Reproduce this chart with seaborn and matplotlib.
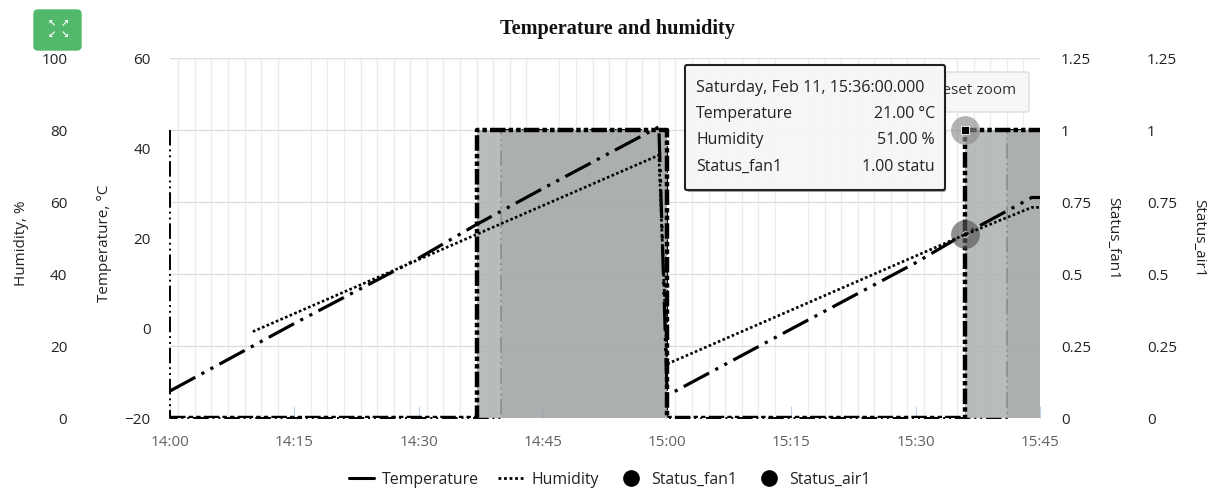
import matplotlib
matplotlib.use("Agg")
import matplotlib.pyplot as plt
import matplotlib.dates as mdates
from matplotlib.lines import Line2D
from matplotlib.patches import FancyBboxPatch
from matplotlib.transforms import Affine2D
import pandas as pd
import seaborn as sns

DAY = "2017-02-11 "
temp_times = ["14:00", "14:15", "14:30", "14:37", "14:45", "14:59", "15:00", "15:15", "15:30", "15:36", "15:44", "15:45"]
temp_values = [-14, 1, 15.5, 23, 31, 44.7, -15, -0.2, 14.5, 21, 29, 29]
hum_times = ["14:10", "14:15", "14:30", "14:37", "14:45", "14:59", "15:00", "15:15", "15:30", "15:36", "15:44", "15:45"]
hum_values = [24, 29, 44, 51, 59, 73, 15, 30, 45, 51, 58.5, 58.5]
fan_times = ["14:00", "14:37", "14:37", "15:00", "15:00", "15:36", "15:36", "15:45"]
fan_values = [0, 0, 1, 1, 0, 0, 1, 1]
air_times = ["14:00", "14:00", "14:00", "14:40", "14:40", "15:00", "15:00", "15:41", "15:41", "15:45"]
air_values = [1, 0, 0, 0, 1, 1, 0, 0, 1, 1]
temp_ticks = [-20, 0, 20, 40, 60]
hum_ticks = [0, 20, 40, 60, 80, 100]
status_ticks = [0, 0.25, 0.5, 0.75, 1, 1.25]
status_labels = ["0", "0.25", "0.5", "0.75", "1", "1.25"]
tooltip_rows = [("Temperature", "21.00 °C"), ("Humidity", "51.00 %"), ("Status_fan1", "1.00 statu")]
tooltip_head = "Saturday, Feb 11, 15:36:00.000"

def frame(times, values):
    return pd.DataFrame({"t": pd.to_datetime([DAY + t for t in times]), "v": values})

temp = frame(temp_times, temp_values)
hum = frame(hum_times, hum_values)
fan = frame(fan_times, fan_values)
air = frame(air_times, air_values)

sns.set_theme(style="white")
plt.rcParams["font.family"] = ["Open Sans", "DejaVu Sans"]
TXT = "#222222"
FS = 11

W, H = 1213, 490
fig = plt.figure(figsize=(W / 100, H / 100), dpi=100)
L, R, T, B = 170, 1040, 58, 418
ax = fig.add_axes([L / W, 1 - B / H, (R - L) / W, (B - T) / H])
ax_air = ax.twinx()
ax_fan = ax.twinx()
ax_temp = ax.twinx()
ax_hum = ax.twinx()
px = Affine2D().scale(1, -1).translate(0, H)

stack = (ax, ax_air, ax_fan, ax_temp, ax_hum)
for i, a in enumerate(stack):
    a.set_zorder(i)
    a.patch.set_visible(False)
    for s in a.spines.values():
        s.set_visible(False)

x0, x1 = pd.Timestamp(DAY + "14:00"), pd.Timestamp(DAY + "15:45")
ax.set_xlim(x0, x1)
ax.set_ylim(-20, 60)
ax_temp.set_ylim(-20, 60)
ax_hum.set_ylim(0, 100)
ax_fan.set_ylim(0, 1.25)
ax_air.set_ylim(0, 1.25)

ax.xaxis.set_major_locator(mdates.MinuteLocator(byminute=[0, 15, 30, 45]))
ax.xaxis.set_major_formatter(mdates.DateFormatter("%H:%M"))
ax.xaxis.set_minor_locator(mdates.MinuteLocator(interval=2))
ax.grid(False)
ax.grid(True, which="minor", axis="x", color="#ececef", lw=1)
ax.tick_params(axis="x", which="major", direction="in", length=9, width=0.8, color="#c4d0e4",
               pad=12, labelsize=FS, labelcolor="#5f6368", bottom=True)
ax.tick_params(axis="x", which="minor", length=0)
ax.set_yticks([])

ax_temp.yaxis.tick_left()
ax_temp.set_yticks(temp_ticks)
ax_temp.tick_params(axis="y", length=0, pad=14, labelsize=FS, labelcolor=TXT)
ax_hum.yaxis.tick_left()
ax_hum.set_yticks(hum_ticks)
ax_hum.tick_params(axis="y", length=0, pad=74, labelsize=FS, labelcolor=TXT)
ax_fan.set_yticks(status_ticks, status_labels)
ax_fan.tick_params(axis="y", length=0, pad=15, labelsize=FS, labelcolor=TXT)
ax_air.set_yticks(status_ticks, status_labels)
ax_air.tick_params(axis="y", length=0, pad=77, labelsize=FS, labelcolor=TXT)
ax_air.set_axisbelow(True)
ax_air.grid(True, axis="y", color="#e0dde0", lw=1, zorder=0)
for a in (ax_fan, ax_temp, ax_hum):
    a.grid(False)

sns.lineplot(data=air, x="t", y="v", ax=ax_air, estimator=None, sort=False, color="black",
             lw=1.4, linestyle=(0, (8, 2, 1, 2, 1, 2)), zorder=1, legend=False, clip_on=False)
ax_air.fill_between(fan["t"], fan["v"], color="#adb1b1", alpha=0.86, lw=0, zorder=2)
ax_air.fill_between(air["t"][3:], air["v"][3:], color="#666666", alpha=0.14, lw=0, zorder=3)

sns.lineplot(data=fan, x="t", y="v", ax=ax_fan, estimator=None, sort=False, color="black", lw=3.2,
             linestyle=(0, (3.5, 0.7, 1, 0.7, 1, 0.7)), zorder=5, legend=False)
sns.lineplot(data=temp, x="t", y="v", ax=ax_temp, estimator=None, sort=False, color="black", lw=2.3,
             linestyle=(0, (9, 2.2, 1, 2.2, 1, 2.2)), legend=False, zorder=5)
sns.lineplot(data=hum, x="t", y="v", ax=ax_hum, estimator=None, sort=False, color="black", lw=1.9,
             linestyle=(0, (1, 0.9)), legend=False, zorder=5)
for a in stack:
    a.set_xlabel("")
    a.set_ylabel("")
    a.set_xlim(x0, x1)

hover = pd.Timestamp(DAY + "15:36")
ax_fan.scatter([hover], [1], s=430, color="#8c8c8c", alpha=0.65, lw=0, zorder=6)
ax_fan.scatter([hover], [1], s=26, color="black", marker="s", edgecolor="white", lw=0.6, zorder=7)
ax_temp.scatter([hover], [21], s=430, color="#555555", alpha=0.65, lw=0, zorder=6)
ax_temp.scatter([hover], [21], s=16, color="black", edgecolor="white", lw=0.6, zorder=7)

fig.text(617 / W, 1 - 29 / H, "Temperature and humidity", ha="center", va="center",
         family="Liberation Serif", weight="bold", fontsize=14.6, color="#111111")
for x, y, s, rot in [(22, 243, "Humidity, %", 90), (105, 243, "Temperature, °C", 90),
                     (1113, 238, "Status_fan1", 270), (1199, 238, "Status_air1", 270)]:
    fig.text(x / W, 1 - y / H, s, rotation=rot, ha="center", va="center", fontsize=FS, color=TXT)

fig.add_artist(FancyBboxPatch((34, 10), 47, 40, boxstyle="round,pad=0,rounding_size=4", transform=px,
                              fc="#53b96a", ec="#53b96a", lw=1, zorder=10))
for dx, dy in [(-1, -1), (1, -1), (-1, 1), (1, 1)]:
    fig.text((58 + dx * 6.5) / W, 1 - (29 + dy * 6) / H, "↖↗↙↘"[(dx > 0) + 2 * (dy > 0)], color="white",
             ha="center", va="center", fontsize=7, weight="bold", family="DejaVu Sans", zorder=11)

fig.add_artist(FancyBboxPatch((919, 72), 110, 40, boxstyle="round,pad=0,rounding_size=2", transform=px,
                              fc="#f7f7f7", ec="#dddddd", lw=1, zorder=10))
fig.text(975 / W, 1 - 91 / H, "Reset zoom", ha="center", va="center", fontsize=11, color="#333333", zorder=11)

fig.add_artist(FancyBboxPatch((687, 68), 259, 124, boxstyle="round,pad=0,rounding_size=2", transform=px,
                              fc="#555555", ec="none", alpha=0.5, zorder=12))
fig.add_artist(FancyBboxPatch((685, 65), 260, 125, boxstyle="round,pad=0,rounding_size=2", transform=px,
                              fc="#f8f9f9", ec="#1c1c1c", lw=1.5, alpha=0.97, zorder=13))
fig.text(696 / W, 1 - 88 / H, tooltip_head, ha="left", va="center", fontsize=11.6, color="#222222", zorder=14)
for y, (name, val) in zip([114, 140, 167], tooltip_rows):
    fig.text(696 / W, 1 - y / H, name, ha="left", va="center", fontsize=11.4, color="#222222", zorder=14)
    fig.text(935 / W, 1 - y / H, val, ha="right", va="center", fontsize=11.4, color="#222222", zorder=14)

handles = [Line2D([], [], color="black", lw=2.2),
           Line2D([], [], color="black", lw=2, linestyle=(0, (1, 1))),
           Line2D([], [], color="black", marker="o", ms=11, lw=0),
           Line2D([], [], color="black", marker="o", ms=11, lw=0)]
fig.legend(handles, ["Temperature", "Humidity", "Status_fan1", "Status_air1"], ncol=4, frameon=False,
           loc="center", bbox_to_anchor=(610 / W, 1 - 480 / H), fontsize=11.4, columnspacing=1.2,
           handlelength=1.6, handletextpad=0.5, labelcolor=TXT, borderpad=0)

fig.savefig("out.png", dpi=100)
